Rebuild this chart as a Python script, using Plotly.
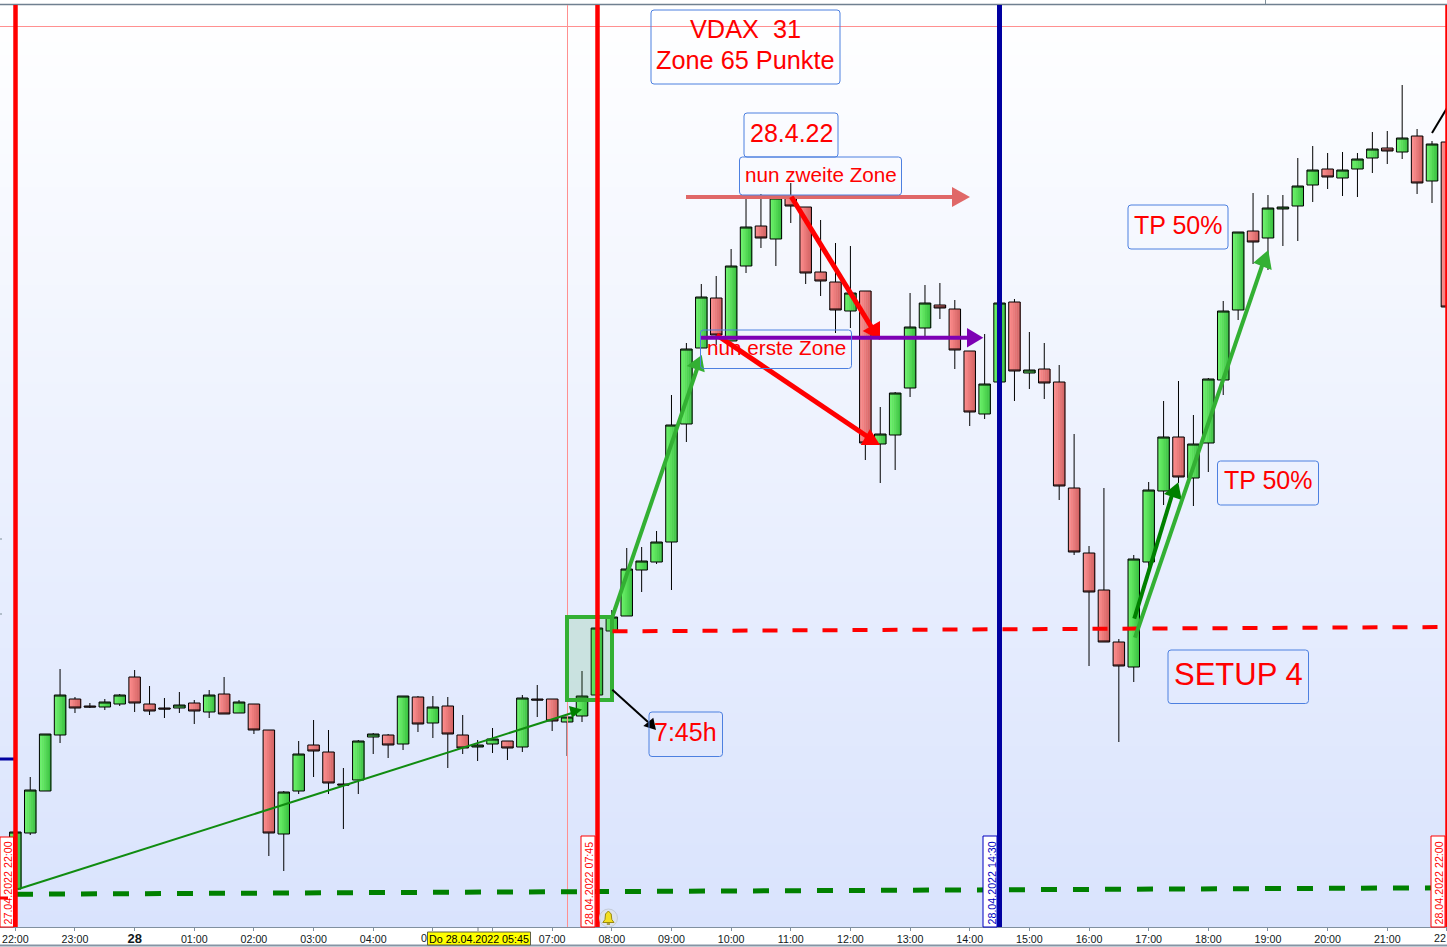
import pandas as pd
import plotly.graph_objects as go

# 15 minute candles, 27.04.2022 22:00 to 28.04.2022 22:00
# the picture prints no price scale, so values are in chart units (0 = bottom of the chart)
times = pd.date_range('2022-04-27 22:00', periods=97, freq='15min')

opens = [38, 94, 136, 192, 228, 221, 220, 223, 250, 223, 219, 219, 224, 215, 233, 214,
         223, 197, 93, 136, 182, 175, 143, 147, 190, 192, 183, 230, 204, 221, 192, 180,
         183, 186, 180, 228, 228, 205, 211, 232, 296, 311, 357, 365, 385, 503, 579, 629,
         586, 661, 701, 688, 730, 720, 655, 645, 616, 636, 483, 492, 539, 599, 622, 618,
         576, 513, 545, 625, 554, 558, 545, 439, 374, 337, 285, 260, 365, 436, 490, 449,
         484, 547, 617, 696, 689, 718, 721, 742, 758, 749, 758, 769, 779, 775, 791, 746,
         785]
highs = [95, 150, 193, 258, 230, 224, 228, 233, 257, 241, 229, 235, 227, 237, 250, 227,
         223, 197, 136, 186, 207, 197, 159, 187, 194, 193, 231, 231, 231, 230, 212, 187,
         199, 186, 232, 242, 228, 210, 256, 299, 317, 379, 380, 396, 532, 584, 643, 651,
         678, 730, 733, 730, 744, 720, 707, 684, 681, 636, 520, 535, 634, 642, 644, 627,
         576, 593, 624, 628, 595, 584, 562, 493, 381, 439, 288, 372, 445, 526, 546, 512,
         549, 626, 695, 734, 732, 732, 769, 781, 774, 775, 774, 795, 796, 842, 798, 786,
         785]
lows = [38, 92, 136, 184, 214, 219, 217, 221, 215, 212, 209, 214, 203, 209, 213, 214,
        193, 71, 56, 133, 150, 133, 98, 133, 173, 169, 177, 195, 189, 159, 173, 166,
        174, 167, 175, 210, 196, 171, 205, 232, 296, 311, 335, 363, 337, 485, 579, 582,
        586, 654, 679, 661, 704, 643, 631, 594, 599, 467, 444, 457, 530, 591, 608, 558,
        501, 508, 545, 526, 538, 528, 427, 372, 261, 285, 185, 245, 357, 422, 444, 421,
        455, 532, 607, 663, 657, 681, 686, 725, 738, 731, 730, 754, 763, 768, 733, 724,
        620]
closes = [95, 137, 193, 232, 219, 220, 225, 232, 224, 216, 218, 222, 216, 232, 213, 225,
          197, 94, 135, 173, 176, 144, 142, 186, 193, 182, 231, 203, 220, 193, 179, 182,
          188, 179, 229, 227, 206, 210, 231, 299, 310, 358, 366, 385, 502, 578, 630, 592,
          661, 700, 689, 729, 721, 654, 646, 617, 634, 484, 493, 534, 600, 624, 619, 577,
          515, 543, 624, 556, 557, 544, 441, 375, 335, 285, 261, 368, 437, 490, 450, 483,
          548, 616, 695, 685, 719, 720, 741, 757, 750, 757, 768, 778, 776, 789, 744, 783,
          620]

tick_times = pd.date_range('2022-04-27 22:00', periods=25, freq='1h')
# 05:00, 06:00 sit under the yellow cursor label, the last 22:00 runs off the page: added as notes below
tick_labels = ['22:00', '23:00', '<span style="font-size:13px"><b>28</b></span>', '01:00', '02:00',
               '03:00', '04:00', '', '', '07:00', '08:00', '09:00', '10:00', '11:00',
               '12:00', '13:00', '14:00', '15:00', '16:00', '17:00', '18:00', '19:00', '20:00',
               '21:00', '']

W, H = 1447, 947
TOP, BOTTOM = 5, 927
MS_PER_PX = 60350
RED, BLUE_BOX, LIGHT_GREEN, DARK_GREEN = '#ff0000', '#4d80e0', '#33b033', '#008000'

def fx(px):
    return px / W

def fy(py):
    return (BOTTOM - py) / (BOTTOM - TOP)

shapes = []
notes = []

def line(x0, y0, x1, y1, color, width, dash='solid'):
    shapes.append(dict(type='line', xref='paper', yref='paper', x0=fx(x0), y0=fy(y0), x1=fx(x1), y1=fy(y1),
                       line=dict(color=color, width=width, dash=dash), layer='above'))

def poly(points, color, edge=None):
    path = 'M ' + ' L '.join(f'{fx(a)} {fy(b)}' for a, b in points) + ' Z'
    shapes.append(dict(type='path', xref='paper', yref='paper', path=path, fillcolor=color,
                       line=dict(color=edge, width=1) if edge else dict(width=0), layer='above'))

def rect(x0, y0, x1, y1, fill, edge, width=1):
    shapes.append(dict(type='rect', xref='paper', yref='paper', x0=fx(x0), y0=fy(y0), x1=fx(x1), y1=fy(y1),
                       fillcolor=fill, line=dict(color=edge, width=width), layer='above'))

def text(x, y, s, size, color=RED, angle=0):
    notes.append(dict(xref='paper', yref='paper', x=fx(x), y=fy(y), text=s, showarrow=False,
                      textangle=angle, xanchor='center', yanchor='middle',
                      font=dict(family='Liberation Sans', size=size, color=color)))

def box(x0, y0, x1, y1, s, size):
    # rounded blue frame with see-through inside
    r = 3
    p = (f'M {fx(x0 + r)} {fy(y0)} L {fx(x1 - r)} {fy(y0)} Q {fx(x1)} {fy(y0)} {fx(x1)} {fy(y0 + r)} '
         f'L {fx(x1)} {fy(y1 - r)} Q {fx(x1)} {fy(y1)} {fx(x1 - r)} {fy(y1)} '
         f'L {fx(x0 + r)} {fy(y1)} Q {fx(x0)} {fy(y1)} {fx(x0)} {fy(y1 - r)} '
         f'L {fx(x0)} {fy(y0 + r)} Q {fx(x0)} {fy(y0)} {fx(x0 + r)} {fy(y0)} Z')
    shapes.append(dict(type='path', xref='paper', yref='paper', path=p,
                       line=dict(color=BLUE_BOX, width=1), layer='above'))
    if s:
        text((x0 + x1) / 2, (y0 + y1) / 2 - (2.5 if size > 22 else 1.5), s, size)

fig = go.Figure()

# background gradient
fig.add_trace(go.Heatmap(x=['2022-04-27 12:00', '2022-04-29 08:00'], y=[0, 922], z=[[1, 1], [0, 0]],
                         colorscale=[[0, '#ffffff'], [1, '#d9e3fd']], showscale=False,
                         zsmooth='best', hoverinfo='skip'))

# candle bodies: colour steps from left to right, outlines come from the candlestick trace
green_steps = ['#6af06a', '#62e862', '#5ae05a', '#50d652', '#46cc4a', '#3cc244']
red_steps = ['#fa8c8c', '#f48484', '#ec7c7c', '#e47474', '#dc6c6c', '#d46464']
rising = [c >= o for o, c in zip(opens, closes)]
bases = [min(o, c) for o, c in zip(opens, closes)]
sizes = [abs(c - o) for o, c in zip(opens, closes)]
body_px = 11.6
step_px = body_px / len(green_steps)
for n in range(len(green_steps)):
    colors = [green_steps[n] if r else red_steps[n] for r in rising]
    fig.add_trace(go.Bar(x=times, y=sizes, base=bases, width=(step_px + 0.4) * MS_PER_PX,
                         offset=(-body_px / 2 + n * step_px) * MS_PER_PX,
                         marker=dict(color=colors, line=dict(width=0)), hoverinfo='skip'))

fig.add_trace(go.Candlestick(x=times, open=opens, high=highs, low=lows, close=closes,
                             increasing=dict(line=dict(color='black', width=1), fillcolor='rgba(0,0,0,0)'),
                             decreasing=dict(line=dict(color='black', width=1), fillcolor='rgba(0,0,0,0)'),
                             whiskerwidth=0, hoverinfo='skip'))

# frame lines and cross hair
line(0, 4.5, W, 4.5, '#708090', 1.5)
line(0, 945.5, W, 945.5, '#8595a5', 2)
line(0, 26.5, W, 26.5, '#ff9090', 1)
line(567.5, TOP, 567.5, BOTTOM, '#ff9090', 1)
line(478, BOTTOM, 478, 931, '#707880', 1)
line(1265.5, 0, 1265.5, 4, '#7f8f98', 1)
line(0, 539, 2, 539, '#7f8f98', 1)
line(0, 614, 2, 614, '#7f8f98', 1)
line(0, 759, 14, 759, '#0000a0', 3)

# entry zone
rect(567, 617, 612, 700, 'rgba(51,176,51,0.15)', LIGHT_GREEN, 4)

# dashed levels
line(17, 894.2, W, 887.8, DARK_GREEN, 5, '16px,16px')
line(612.5, 631.3, W, 627, RED, 4, '15px,15px')

# trend lines with arrow heads
line(17.7, 889.3, 572, 713, '#108c10', 2)
poly([(582, 709.5), (569, 706), (572, 718)], DARK_GREEN)
line(612.3, 617, 697, 369, LIGHT_GREEN, 4)
poly([(701.7, 355), (686.7, 366), (704.7, 372.3)], LIGHT_GREEN)
line(686, 197, 955, 197, '#e06868', 4)
poly([(970, 197), (952, 187), (952, 207)], '#e06868')
line(791.3, 196.7, 872, 328, RED, 5)
poly([(880, 340), (862.7, 331), (880, 321)], RED)
line(716.7, 335, 868, 437, RED, 5)
poly([(880, 445), (870, 429), (860.7, 445)], RED)
line(700, 337.7, 970, 337.7, '#7d00b4', 4)
poly([(983.3, 337.7), (967, 328), (967, 347.5)], '#7d00b4')
line(1134.3, 618.7, 1172, 495, DARK_GREEN, 4)
poly([(1178.3, 482.3), (1164, 494), (1181.7, 500)], DARK_GREEN)
line(1135, 637.7, 1263, 263, LIGHT_GREEN, 4)
poly([(1268.3, 250), (1253.3, 262.7), (1271.7, 270)], LIGHT_GREEN)
line(612.3, 689.7, 648, 722, 'black', 2)
poly([(656, 730), (643.3, 726), (653.3, 717.7)], 'black')
line(1432, 133, 1447, 108, 'black', 2)

# session lines with date labels
line(15.5, TOP, 15.5, BOTTOM, RED, 4.5)
line(597.5, TOP, 597.5, BOTTOM, RED, 4.5)
line(999.5, TOP, 999.5, BOTTOM, '#0000a0', 5)
line(1447.5, TOP, 1447.5, BOTTOM, RED, 4.5)
rect(0, 837, 13.5, 927, 'white', RED)
rect(581, 836, 595, 927, 'white', RED)
rect(983, 836, 997, 927, 'white', '#0000c0')
rect(1431, 836, 1445, 927, 'white', RED)
line(0, 898, 8, 898, RED, 3)
text(7, 883.5, '27.04.2022 22:00', 10.7, RED, -90)
text(588.5, 883.5, '28.04.2022 07:45', 10.7, RED, -90)
text(991, 883.5, '28.04.2022 14:30', 10.7, '#0000c0', -90)
text(1438, 883.5, '28.04.2022 22:00', 10.7, RED, -90)

# alarm bell
shapes.append(dict(type='circle', xref='paper', yref='paper', x0=fx(599.5), y0=fy(927), x1=fx(617.5), y1=fy(909),
                   fillcolor='#dde2ec', line=dict(color='#c4ccd8', width=1), layer='above'))
poly([(602.8, 922.5), (605, 919.5), (605.5, 914), (608.4, 911), (611.2, 914), (611.8, 919.5), (614, 922.5)],
     '#f4e020', '#9a8a10')
line(606.8, 924, 610, 924, '#9a8a10', 1.5)

# axis labels that are cut off in the picture, cursor time on the axis
text(424, 938, '0', 10.7, '#101820')
text(1440, 938, '22', 10.7, '#101820')
rect(427.5, 932, 530.5, 945, '#ffff00', '#606040')
text(479, 938.7, 'Do 28.04.2022 05:45', 10.7, 'black')

# text boxes
box(651, 10, 840, 84, '', 25)
text(745.5, 29.5, 'VDAX  31', 25.3)
text(745.5, 60, 'Zone 65 Punkte', 25.3)
box(744, 113, 838, 157, '28.4.22', 25)
box(739.5, 157, 901.5, 195, 'nun zweite Zone', 20.7)
box(700.5, 330, 851.5, 368.5, 'nun erste Zone', 20.7)
box(649, 712, 722.5, 756.5, '7:45h', 25)
box(1128, 205, 1228, 249, 'TP 50%', 25)
box(1217.5, 461, 1318.5, 505, 'TP 50%', 25)
box(1168, 650, 1308.5, 703.5, 'SETUP 4', 31)

fig.update_layout(width=W, height=H, autosize=False,
                  margin=dict(l=0, r=0, t=TOP, b=H - BOTTOM),
                  paper_bgcolor='white', plot_bgcolor='white',
                  showlegend=False, hovermode=False, barmode='overlay', boxgap=0.12, boxgroupgap=0.125,
                  shapes=shapes, annotations=notes)
fig.update_xaxes(type='date', range=['2022-04-27 21:44:35', '2022-04-28 22:00:05'],
                 rangeslider_visible=False, showgrid=False, zeroline=False,
                 tickmode='array', tickvals=tick_times, ticktext=tick_labels,
                 tickangle=0, ticks='outside', ticklen=3, tickcolor='#8090a0',
                 tickfont=dict(family='Liberation Sans', size=10.7, color='#101820'),
                 ticklabeloverflow='allow', ticklabelstandoff=-1,
                 showline=True, linecolor='#8090a0', linewidth=1)
fig.update_yaxes(range=[0, 922], visible=False)

fig.write_html('out.html', config=dict(displayModeBar=False), post_script="document.body.style.margin='0';")
